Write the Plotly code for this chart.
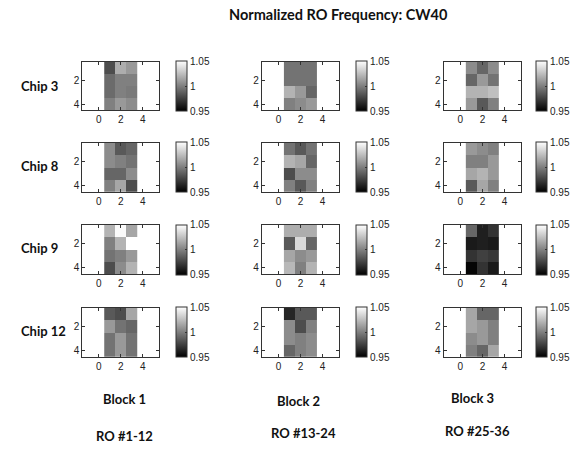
import plotly.graph_objects as go

chips = ["Chip 3", "Chip 8", "Chip 9", "Chip 12"]
blocks = ["Block 1", "Block 2", "Block 3"]
ro_labels = ["RO #1-12", "RO #13-24", "RO #25-36"]
x_cols = [1, 2, 3]
y_rows = [1, 2, 3, 4]
cbar_ticks = [0.95, 1.0, 1.05]
cbar_text = ["0.95", "1", "1.05"]

# normalized frequency values (rows top->bottom, columns left->right)
chip3_b1 = [[0.980, 1.018, 1.010], [0.992, 1.000, 1.000], [0.992, 1.000, 0.998], [1.000, 1.010, 1.005]]
chip3_b2 = [[0.995, 0.995, 0.995], [0.995, 0.995, 0.995], [1.020, 1.010, 0.990], [1.000, 1.005, 1.010]]
chip3_b3 = [[1.005, 0.990, 1.005], [0.990, 1.010, 0.995], [1.020, 1.020, 1.025], [1.010, 0.985, 1.000]]
chip8_b1 = [[1.005, 0.985, 0.990], [1.005, 1.000, 0.995], [0.990, 0.990, 1.005], [1.000, 1.015, 0.980]]
chip8_b2 = [[0.995, 0.985, 0.995], [1.020, 1.015, 0.990], [0.980, 1.005, 1.005], [1.000, 0.985, 1.000]]
chip8_b3 = [[1.010, 1.005, 1.000], [1.000, 1.000, 1.010], [1.015, 1.020, 1.010], [0.985, 1.015, 1.000]]
chip9_b1 = [[1.020, 1.048, 1.015], [1.000, 1.020, 1.055], [0.995, 1.000, 1.010], [0.980, 1.005, 1.020]]
chip9_b2 = [[1.018, 1.018, 1.018], [0.985, 1.035, 0.990], [1.015, 1.005, 1.010], [1.022, 1.000, 1.020]]
chip9_b3 = [[0.990, 0.962, 0.970], [0.960, 0.962, 0.960], [0.970, 0.975, 0.972], [0.952, 0.970, 0.960]]
chip12_b1 = [[0.985, 0.980, 1.015], [1.010, 0.995, 0.990], [0.995, 1.010, 0.995], [0.995, 1.010, 0.995]]
chip12_b2 = [[0.965, 0.985, 0.985], [1.005, 0.980, 1.000], [1.005, 1.000, 1.005], [0.990, 1.000, 1.005]]
chip12_b3 = [[1.015, 0.990, 0.990], [1.015, 1.010, 1.000], [1.005, 1.010, 1.000], [1.000, 0.990, 1.015]]

grid = [
    [chip3_b1, chip3_b2, chip3_b3],
    [chip8_b1, chip8_b2, chip8_b3],
    [chip9_b1, chip9_b2, chip9_b3],
    [chip12_b1, chip12_b2, chip12_b3],
]

W, H = 573, 449
col_px = [(82.7, 160.0), (263.3, 340.7), (446.0, 524.0)]
row_px = [(62.0, 110.0), (143.0, 191.7), (225.0, 274.0), (308.0, 356.7)]
cbar_left_px = [177.0, 358.0, 539.0]

def px_x(p):
    return p / W

def px_y(p):
    return 1 - p / H

fig = go.Figure()
tick_font = dict(family="Liberation Sans, Arial, sans-serif", size=10, color="#222")
label_font = dict(family="Lato, Open Sans, sans-serif", size=13, color="#111")

n = 0
for r in range(4):
    for c in range(3):
        n += 1
        suffix = "" if n == 1 else str(n)
        xd = [px_x(col_px[c][0]), px_x(col_px[c][1])]
        yd = [px_y(row_px[r][1]), px_y(row_px[r][0])]
        ymid = (yd[0] + yd[1]) / 2
        fig.add_trace(go.Heatmap(
            z=grid[r][c], x=x_cols, y=y_rows,
            zmin=0.95, zmax=1.05,
            colorscale=[[0, "black"], [1, "white"]],
            xaxis="x" + suffix, yaxis="y" + suffix,
            colorbar=dict(
                x=px_x(cbar_left_px[c]), xanchor="left",
                y=ymid, yanchor="middle",
                len=50, lenmode="pixels",
                thickness=11, thicknessmode="pixels",
                xpad=0, ypad=0,
                outlinewidth=1, outlinecolor="#333",
                tickvals=cbar_ticks, ticktext=cbar_text,
                ticks="inside", ticklen=2, tickcolor="#333",
                tickfont=tick_font,
            ),
            hoverinfo="skip",
        ))
        axcommon = dict(showline=True, linecolor="#333", linewidth=1, mirror="ticks",
                        ticks="inside", ticklen=3, tickcolor="#333", showgrid=False,
                        zeroline=False, tickfont=tick_font)
        fig.layout["xaxis" + suffix] = dict(domain=xd, anchor="y" + suffix,
                                            range=[-1.5, 5.5], tickvals=[0, 2, 4],
                                            **axcommon)
        fig.layout["yaxis" + suffix] = dict(domain=yd, anchor="x" + suffix,
                                            range=[4.5, 0.5], tickvals=[2, 4],
                                            **axcommon)

def ann(text, x, y, size=13, xanchor="center"):
    return dict(text="<b>" + text + "</b>", x=px_x(x), y=px_y(y),
                xanchor=xanchor, yanchor="middle",
                xref="paper", yref="paper", showarrow=False,
                font=dict(family=label_font["family"], size=size, color="#111"))

annotations = [ann("Normalized RO Frequency: CW40", 340, 14, size=14.5)]
chip_y = [86, 166, 248, 331]
for name, yy in zip(chips, chip_y):
    annotations.append(ann(name, 19, yy, xanchor="left"))
block_pos = [(125, 399), (300, 401), (475, 398)]
for name, (xx, yy) in zip(blocks, block_pos):
    annotations.append(ann(name, xx, yy))
ro_pos = [(125, 436), (305, 433), (480, 431)]
for name, (xx, yy) in zip(ro_labels, ro_pos):
    annotations.append(ann(name, xx, yy))

fig.update_layout(width=W, height=H, margin=dict(l=0, r=0, t=0, b=0),
                  paper_bgcolor="white", plot_bgcolor="white",
                  annotations=annotations, showlegend=False)

fig.write_html("out.html",
               config={"displayModeBar": False, "staticPlot": True},
               post_script="document.body.style.margin='0';document.body.style.overflow='hidden';")
